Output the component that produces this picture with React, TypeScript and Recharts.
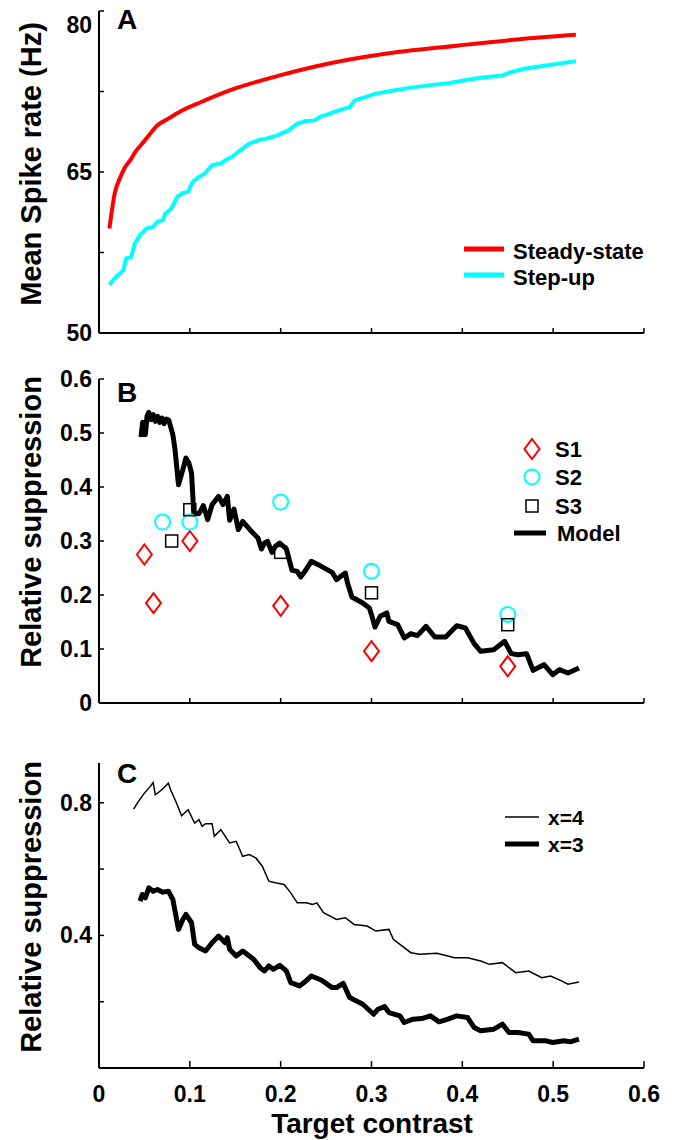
import { ComposedChart, Legend, Line, Scatter, XAxis, YAxis } from "recharts";

const FONT = "'Liberation Sans', Arial, Helvetica, sans-serif";

// Panel A: mean spike rate (Hz) vs target contrast
const steadyState: [number, number][] = [
  [0.0115, 59.74], [0.0173, 63.0], [0.0236, 64.54], [0.028, 65.35], [0.0356, 66.25],
  [0.04, 66.87], [0.0476, 67.65], [0.055, 68.42], [0.0644, 69.35], [0.0764, 69.97],
  [0.0885, 70.59], [0.1125, 71.52], [0.1462, 72.67], [0.199, 74.0], [0.2519, 75.09],
  [0.3096, 75.95], [0.3962, 76.79], [0.4683, 77.41], [0.525, 77.78],
];

const stepUp: [number, number][] = [
  [0.0115, 54.47], [0.0154, 54.93], [0.0212, 55.4], [0.0269, 55.86], [0.0298, 56.95],
  [0.0356, 57.1], [0.0394, 58.34], [0.0452, 59.12], [0.0524, 59.74], [0.0596, 59.89],
  [0.0644, 60.35], [0.0702, 60.51], [0.0731, 61.13], [0.0798, 61.6], [0.0861, 62.68],
  [0.0923, 63.05], [0.0981, 63.14], [0.1029, 64.07], [0.1101, 64.54], [0.1163, 64.85],
  [0.1245, 65.63], [0.1341, 65.79], [0.1389, 66.09], [0.1462, 66.4], [0.1534, 66.87],
  [0.1582, 67.18], [0.1654, 67.65], [0.175, 67.95], [0.1846, 68.11], [0.1966, 68.42],
  [0.2087, 68.88], [0.2183, 69.5], [0.2279, 69.75], [0.2375, 69.81], [0.2447, 70.19],
  [0.2543, 70.44], [0.2639, 70.74], [0.276, 71.05], [0.2817, 71.67], [0.2928, 71.98],
  [0.3048, 72.3], [0.324, 72.6], [0.3433, 72.86], [0.3625, 73.07], [0.3865, 73.29],
  [0.401, 73.53], [0.4202, 73.78], [0.4442, 74.0], [0.4538, 74.31], [0.4683, 74.62],
  [0.4923, 74.93], [0.525, 75.33],
];

// Panel B: relative suppression, model + three subjects
const modelB: [number, number][] = [
  [0.0462, 0.4926], [0.0481, 0.5198], [0.051, 0.4969], [0.0529, 0.5309], [0.0548, 0.5383],
  [0.0572, 0.5247], [0.0596, 0.534], [0.062, 0.5216], [0.0644, 0.5309], [0.0668, 0.5198],
  [0.0692, 0.5278], [0.0716, 0.5173], [0.074, 0.5259], [0.0769, 0.5235], [0.0813, 0.4969],
  [0.0837, 0.4691], [0.0875, 0.4043], [0.0923, 0.4321], [0.0957, 0.4537], [0.099, 0.4444],
  [0.1019, 0.4259], [0.1043, 0.3519], [0.1101, 0.3506], [0.1149, 0.3654], [0.1197, 0.3395],
  [0.1245, 0.3673], [0.1317, 0.3827], [0.1365, 0.3673], [0.1413, 0.3827], [0.1438, 0.3383],
  [0.1486, 0.3593], [0.1534, 0.321], [0.1582, 0.3364], [0.1678, 0.3179], [0.175, 0.3056],
  [0.1788, 0.2852], [0.1822, 0.2963], [0.1856, 0.2994], [0.1904, 0.279], [0.1942, 0.2901],
  [0.199, 0.2963], [0.2063, 0.2852], [0.2125, 0.2457], [0.2183, 0.2438], [0.2221, 0.2333],
  [0.2279, 0.2469], [0.2337, 0.2623], [0.2447, 0.2531], [0.2567, 0.242], [0.2615, 0.2284],
  [0.2663, 0.2346], [0.2712, 0.2407], [0.2736, 0.2222], [0.2784, 0.1963], [0.2904, 0.1852],
  [0.2976, 0.1759], [0.3, 0.1636], [0.3038, 0.1407], [0.3096, 0.1605], [0.3168, 0.1667],
  [0.3192, 0.1512], [0.3288, 0.1451], [0.3361, 0.1204], [0.3433, 0.1284], [0.3505, 0.1247],
  [0.3601, 0.142], [0.3697, 0.1222], [0.3817, 0.1222], [0.3938, 0.1432], [0.4034, 0.1389],
  [0.413, 0.1099], [0.4202, 0.0957], [0.4346, 0.0988], [0.4466, 0.1142], [0.4538, 0.0914],
  [0.4611, 0.0895], [0.4707, 0.0914], [0.4779, 0.0605], [0.4899, 0.071], [0.4995, 0.0525],
  [0.5067, 0.0617], [0.5163, 0.0556], [0.5284, 0.0648],
];

const s1: [number, number][] = [
  [0.05, 0.275], [0.06, 0.185], [0.1, 0.3], [0.2, 0.18], [0.3, 0.096], [0.45, 0.068],
];
const s2: [number, number][] = [
  [0.07, 0.335], [0.1, 0.335], [0.2, 0.372], [0.3, 0.244], [0.45, 0.164],
];
const s3: [number, number][] = [
  [0.08, 0.3], [0.1, 0.358], [0.2, 0.279], [0.3, 0.204], [0.45, 0.145],
];

// Panel C: model with two exponents
const modelX4: [number, number][] = [
  [0.038, 0.7811], [0.0442, 0.8072], [0.05, 0.8292], [0.0558, 0.8472], [0.0596, 0.8612],
  [0.062, 0.8242], [0.0692, 0.8392], [0.0764, 0.8593], [0.0788, 0.8392], [0.0846, 0.8041],
  [0.0909, 0.7611], [0.0981, 0.7791], [0.1053, 0.739], [0.1101, 0.749], [0.1135, 0.729],
  [0.1173, 0.737], [0.1245, 0.737], [0.1269, 0.6989], [0.1341, 0.7189], [0.1438, 0.6788],
  [0.151, 0.6838], [0.1582, 0.6387], [0.1654, 0.6437], [0.1726, 0.6337], [0.1798, 0.6086],
  [0.187, 0.5635], [0.1942, 0.5585], [0.2038, 0.5534], [0.2111, 0.5284], [0.2183, 0.4983],
  [0.2279, 0.4983], [0.2351, 0.4933], [0.2399, 0.4983], [0.2471, 0.4682], [0.2615, 0.4481],
  [0.2712, 0.4532], [0.2808, 0.4331], [0.2952, 0.4281], [0.3048, 0.413], [0.3192, 0.4181],
  [0.324, 0.388], [0.3433, 0.3478], [0.3529, 0.3428], [0.3721, 0.3458], [0.3913, 0.3328],
  [0.4058, 0.3328], [0.4202, 0.3228], [0.4298, 0.3127], [0.4442, 0.3178], [0.4587, 0.2877],
  [0.4731, 0.2927], [0.4875, 0.2726], [0.4971, 0.2776], [0.5091, 0.2626], [0.5163, 0.2526],
  [0.5284, 0.2596],
];

const modelX3: [number, number][] = [
  [0.0452, 0.5033], [0.0476, 0.5234], [0.051, 0.5133], [0.0548, 0.5434], [0.0596, 0.5334],
  [0.0644, 0.5384], [0.0702, 0.5304], [0.0764, 0.5334], [0.0813, 0.5083], [0.0875, 0.4181],
  [0.0923, 0.4481], [0.0957, 0.4632], [0.1019, 0.4381], [0.1053, 0.3729], [0.1101, 0.3629],
  [0.1173, 0.3529], [0.1245, 0.3779], [0.1317, 0.398], [0.1389, 0.3779], [0.1413, 0.393],
  [0.1438, 0.3579], [0.151, 0.3378], [0.1582, 0.3529], [0.1702, 0.3278], [0.1774, 0.3027],
  [0.1822, 0.2927], [0.187, 0.3077], [0.1918, 0.2977], [0.199, 0.3097], [0.2063, 0.2927],
  [0.2111, 0.2575], [0.2207, 0.2475], [0.2279, 0.2626], [0.2337, 0.2776], [0.2447, 0.2656],
  [0.2567, 0.2425], [0.2615, 0.2425], [0.2688, 0.2555], [0.276, 0.2124], [0.2904, 0.1923],
  [0.3024, 0.1622], [0.3072, 0.1773], [0.3144, 0.1853], [0.3192, 0.1673], [0.3313, 0.1573],
  [0.3361, 0.1372], [0.3457, 0.1472], [0.3553, 0.1492], [0.3649, 0.1573], [0.3745, 0.1392],
  [0.3841, 0.1472], [0.3938, 0.1573], [0.4058, 0.1522], [0.413, 0.1222], [0.4202, 0.1121],
  [0.4346, 0.1171], [0.4442, 0.1322], [0.4514, 0.1071], [0.4611, 0.1071], [0.4731, 0.1021],
  [0.4779, 0.082], [0.4923, 0.082], [0.4995, 0.077], [0.5115, 0.082], [0.5187, 0.079],
  [0.5284, 0.0871],
];

const xTicks = [0, 0.1, 0.2, 0.3, 0.4, 0.5, 0.6];
const ticksA = [50, 57.5, 65, 72.5, 80];
const labelsA = [50, 65, 80];
const ticksB = [0, 0.1, 0.2, 0.3, 0.4, 0.5, 0.6];
const ticksC = [0.2, 0.4, 0.6, 0.8];
const labelsC = [0.4, 0.8];

const legendA = ["Steady-state", "Step-up"];
const legendB = ["S1", "S2", "S3", "Model"];
const legendC = ["x=4", "x=3"];

const RED = "#ff0000";
const CYAN = "#00ffff";

const pts = (pairs: [number, number][]) => pairs.map(([x, y]) => ({ x, y }));

const txt = (size: number) => ({ fontFamily: FONT, fontSize: size, fontWeight: 700, fill: "#000" });

// inward ticks like matlab; tickSize/tickMargin are 0 so x/y are on the axis line
const makeYTick = (labels: number[], nudge: Record<number, number> = {}) => (props: any) => {
  const { x, y, payload } = props;
  const v = payload.value;
  return (
    <g>
      <line x1={x} x2={x + 5} y1={y} y2={y} stroke="#000" strokeWidth={1.5} />
      {labels.includes(v) && (
        <text x={x - 7} y={y + 8 + (nudge[v] ?? 0)} textAnchor="end" style={txt(23)}>
          {String(v)}
        </text>
      )}
    </g>
  );
};

const makeXTick = (withLabels: boolean, len: number) => (props: any) => {
  const { x, y, payload } = props;
  return (
    <g>
      <line x1={x} x2={x} y1={y} y2={y - len} stroke="#000" strokeWidth={1.5} />
      {withLabels && (
        <text x={x} y={y + 34} textAnchor="middle" style={txt(23)}>
          {String(payload.value)}
        </text>
      )}
    </g>
  );
};

// rotated y title plus panel letter
const PanelText = ({ title, cy, letter, ly }: { title: string; cy: number; letter: string; ly: number }) => (
  <g>
    <text x={41} y={cy} transform={`rotate(-90 41 ${cy})`} textAnchor="middle" style={txt(29)}>
      {title}
    </text>
    <text x={117} y={ly} style={txt(28)}>
      {letter}
    </text>
  </g>
);

const XTitle = () => (
  <text x={372} y={393} textAnchor="middle" style={txt(28)}>
    Target contrast
  </text>
);

const Diamond = ({ cx, cy }: any) => (
  <polygon
    points={`${cx},${cy - 10} ${cx + 7.5},${cy} ${cx},${cy + 10} ${cx - 7.5},${cy}`}
    fill="none"
    stroke={RED}
    strokeWidth={2}
  />
);
const Ring = ({ cx, cy }: any) => <circle cx={cx} cy={cy} r={7.5} fill="none" stroke={CYAN} strokeWidth={2} />;
const Box = ({ cx, cy }: any) => (
  <rect x={cx - 6} y={cy - 6} width={12} height={12} fill="none" stroke="#000" strokeWidth={1.5} />
);

const LegendA = () => (
  <svg width={220} height={70}>
    <line x1={9} x2={49} y1={19} y2={19} stroke={RED} strokeWidth={5} />
    <text x={58} y={29} style={txt(22)}>{legendA[0]}</text>
    <line x1={9} x2={49} y1={45} y2={45} stroke={CYAN} strokeWidth={5} />
    <text x={58} y={55} style={txt(22)}>{legendA[1]}</text>
  </svg>
);

const LegendB = () => (
  <svg width={140} height={120}>
    <Diamond cx={32} cy={19} />
    <text x={55} y={27} style={txt(22)}>{legendB[0]}</text>
    <Ring cx={32} cy={47} />
    <text x={55} y={55} style={txt(22)}>{legendB[1]}</text>
    <Box cx={32} cy={76} />
    <text x={55} y={84} style={txt(22)}>{legendB[2]}</text>
    <line x1={14} x2={46} y1={103} y2={103} stroke="#000" strokeWidth={5} />
    <text x={57} y={111} style={txt(22)}>{legendB[3]}</text>
  </svg>
);

const LegendC = () => (
  <svg width={120} height={70}>
    <line x1={10} x2={44} y1={17} y2={17} stroke="#000" strokeWidth={1.5} />
    <text x={53} y={25} style={txt(21)}>{legendC[0]}</text>
    <line x1={10} x2={44} y1={44} y2={44} stroke="#000" strokeWidth={5} />
    <text x={53} y={52} style={txt(21)}>{legendC[1]}</text>
  </svg>
);

const axisLine = { stroke: "#000", strokeWidth: 2 };

const App = () => {
  return (
    <div style={{ position: "absolute", left: 0, top: 0, width: 688, height: 1140, background: "#fff", overflow: "hidden" }}>
      {/* A */}
      <div style={{ position: "absolute", left: 0, top: 0 }}>
        <ComposedChart width={688} height={345} margin={{ top: 11, right: 44, left: 0, bottom: 0 }}>
          <XAxis
            type="number"
            dataKey="x"
            domain={[0, 0.6]}
            ticks={xTicks}
            interval={0}
            height={12}
            tickSize={0}
            tickMargin={0}
            tickLine={false}
            axisLine={axisLine}
            tick={makeXTick(false, 5)}
          />
          <YAxis
            type="number"
            dataKey="y"
            domain={[50, 80]}
            ticks={ticksA}
            interval={0}
            width={99}
            tickSize={0}
            tickMargin={0}
            tickLine={false}
            axisLine={axisLine}
            tick={makeYTick(labelsA, { 80: 14 })}
            label={<PanelText title="Mean Spike rate (Hz)" cy={164} letter="A" ly={29} />}
          />
          <Line data={pts(steadyState)} dataKey="y" type="monotone" stroke={RED} strokeWidth={4} dot={false} isAnimationActive={false} />
          <Line data={pts(stepUp)} dataKey="y" type="linear" stroke={CYAN} strokeWidth={4} strokeLinejoin="round" dot={false} isAnimationActive={false} />
          <Legend
            layout="vertical"
            align="center"
            verticalAlign="middle"
            content={() => <LegendA />}
            wrapperStyle={{ left: 455, top: 230, width: 220, height: 70 }}
          />
        </ComposedChart>
      </div>

      {/* B */}
      <div style={{ position: "absolute", left: 0, top: 360 }}>
        <ComposedChart width={688} height={355} margin={{ top: 19, right: 44, left: 0, bottom: 0 }}>
          <XAxis
            type="number"
            dataKey="x"
            domain={[0, 0.6]}
            ticks={xTicks}
            interval={0}
            height={12}
            tickSize={0}
            tickMargin={0}
            tickLine={false}
            axisLine={axisLine}
            tick={makeXTick(false, 5)}
          />
          <YAxis
            type="number"
            dataKey="y"
            domain={[0, 0.6]}
            ticks={ticksB}
            interval={0}
            width={99}
            tickSize={0}
            tickMargin={0}
            tickLine={false}
            axisLine={axisLine}
            tick={makeYTick(ticksB)}
            label={<PanelText title="Relative suppression" cy={162} letter="B" ly={42} />}
          />
          <Line data={pts(modelB)} dataKey="y" type="linear" stroke="#000" strokeWidth={5} strokeLinejoin="round" dot={false} isAnimationActive={false} />
          <Scatter data={pts(s1)} dataKey="y" shape={Diamond} isAnimationActive={false} />
          <Scatter data={pts(s2)} dataKey="y" shape={Ring} isAnimationActive={false} />
          <Scatter data={pts(s3)} dataKey="y" shape={Box} isAnimationActive={false} />
          <Legend
            layout="vertical"
            align="center"
            verticalAlign="middle"
            content={() => <LegendB />}
            wrapperStyle={{ left: 500, top: 70, width: 140, height: 120 }}
          />
        </ComposedChart>
      </div>

      {/* C */}
      <div style={{ position: "absolute", left: 0, top: 740 }}>
        <ComposedChart width={688} height={400} margin={{ top: 23, right: 44, left: 0, bottom: 0 }}>
          <XAxis
            type="number"
            dataKey="x"
            domain={[0, 0.6]}
            ticks={xTicks}
            interval={0}
            height={72}
            tickSize={0}
            tickMargin={0}
            tickLine={false}
            axisLine={axisLine}
            tick={makeXTick(true, 7)}
            label={<XTitle />}
          />
          <YAxis
            type="number"
            dataKey="y"
            domain={[0, 0.92]}
            ticks={ticksC}
            interval={0}
            width={99}
            tickSize={0}
            tickMargin={0}
            tickLine={false}
            axisLine={axisLine}
            tick={makeYTick(labelsC)}
            label={<PanelText title="Relative suppression" cy={167} letter="C" ly={43} />}
          />
          <Line data={pts(modelX4)} dataKey="y" type="linear" stroke="#000" strokeWidth={1.5} dot={false} isAnimationActive={false} />
          <Line data={pts(modelX3)} dataKey="y" type="linear" stroke="#000" strokeWidth={5} strokeLinejoin="round" dot={false} isAnimationActive={false} />
          <Legend
            layout="vertical"
            align="center"
            verticalAlign="middle"
            content={() => <LegendC />}
            wrapperStyle={{ left: 495, top: 60, width: 120, height: 70 }}
          />
        </ComposedChart>
      </div>
    </div>
  );
};

export default App;
